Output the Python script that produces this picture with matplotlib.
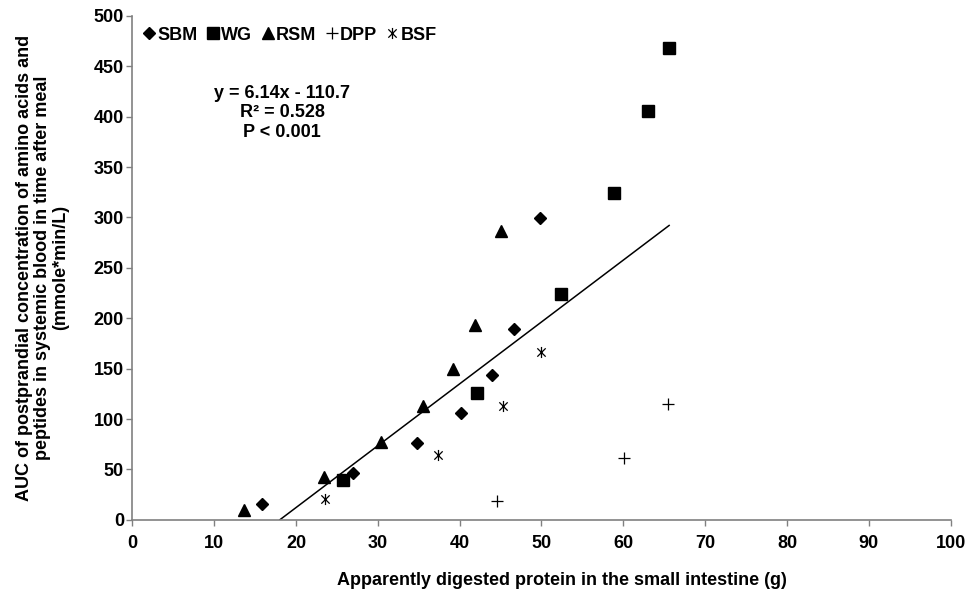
import numpy as np
import matplotlib
matplotlib.use("Agg")
import matplotlib.pyplot as plt
from matplotlib.path import Path

plt.rcParams['font.family'] = ['Liberation Sans', 'DejaVu Sans']
plt.rcParams['font.weight'] = 'bold'

# data
sbm_x = [15.9, 27.0, 34.8, 40.2, 44.0, 46.7, 49.8]
sbm_y = [15.6, 46.9, 76.6, 106.4, 143.5, 189, 299]
wg_x = [25.8, 42.1, 52.4, 58.9, 63.0, 65.6]
wg_y = [39.7, 125.6, 224, 324, 406, 468]
rsm_x = [13.6, 23.4, 30.4, 35.5, 39.2, 41.9, 45.1]
rsm_y = [10, 42, 77, 113, 150, 193, 286.5]
dpp_x = [44.6, 60.1, 65.5]
dpp_y = [19, 61, 115]
bsf_x = [23.5, 37.3, 45.3, 49.9]
bsf_y = [21, 64, 113, 166.5]

slope = 6.14
intercept = -110.7
fit_x = [-intercept / slope, 65.6]

FS = 13

# asterisk marker: vertical stroke plus an X
star = Path([(0, -1), (0, 1), (-0.75, -0.75), (0.75, 0.75), (-0.75, 0.75), (0.75, -0.75)],
            [Path.MOVETO, Path.LINETO, Path.MOVETO, Path.LINETO, Path.MOVETO, Path.LINETO])

fig = plt.figure(figsize=(9.73, 5.90), dpi=100)
ax = fig.add_axes([0.136, 0.119, 0.841, 0.854])

ax.plot(fit_x, [slope * x + intercept for x in fit_x], color='black', lw=1.1, zorder=2)
ax.plot(sbm_x, sbm_y, 'D', color='black', ms=6, ls='none', label='SBM', zorder=3)
ax.plot(wg_x, wg_y, 's', color='black', ms=8, ls='none', label='WG', zorder=3)
ax.plot(rsm_x, rsm_y, '^', color='black', ms=8.5, ls='none', label='RSM', zorder=3)
ax.plot(dpp_x, dpp_y, '+', color='black', ms=9, mew=0.9, ls='none', label='DPP', zorder=3)
ax.plot(bsf_x, bsf_y, marker=star, color='black', ms=8, mew=0.9, ls='none', label='BSF', zorder=3)

ax.set_xlim(0, 100)
ax.set_ylim(0, 500)
ax.set_xticks(np.arange(0, 101, 10))
ax.set_yticks(np.arange(0, 501, 50))
for s in ['top', 'right']:
    ax.spines[s].set_visible(False)
for s in ['left', 'bottom']:
    ax.spines[s].set_color('#808080')
    ax.spines[s].set_linewidth(1.2)
ax.tick_params(direction='out', length=4, width=1, color='#808080', labelsize=FS)
ax.tick_params(axis='x', pad=7)
ax.tick_params(axis='y', pad=2)
for lab in ax.get_xticklabels() + ax.get_yticklabels():
    lab.set_fontweight('bold')

ax.set_xlabel('Apparently digested protein in the small intestine (g)', fontsize=FS,
              fontweight='bold')
ax.xaxis.set_label_coords((562 - 132.5) / 818, -0.103)
ax.set_ylabel('AUC of postprandial concentration of amino acids and\n'
              'peptides in systemic blood in time after meal\n(mmole*min/L)',
              fontsize=FS, fontweight='bold', linespacing=1.1)
ax.yaxis.set_label_coords(-0.077, 0.5)

ax.text(18.3, 404, 'y = 6.14x - 110.7\nR² = 0.528\nP < 0.001', ha='center', va='center',
        fontsize=FS, fontweight='bold', linespacing=1.2)

ax.legend(loc='upper left', ncol=5, frameon=False, handlelength=0.7,
          handletextpad=0.1, columnspacing=0.5, borderaxespad=0.2,
          bbox_to_anchor=(0.0, 1.0), prop={'weight': 'bold', 'size': FS})

fig.savefig('out.png', dpi=100)
